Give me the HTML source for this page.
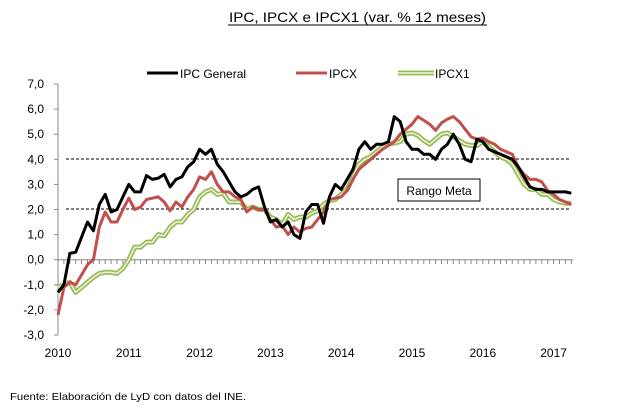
<!DOCTYPE html>
<html><head><meta charset="utf-8"><style>
html,body{margin:0;padding:0;background:#fff;}
svg{display:block;font-family:"Liberation Sans",Calibri,sans-serif;}
</style></head><body>
<svg id="c" width="618" height="416" viewBox="0 0 618 416" xmlns="http://www.w3.org/2000/svg">
<text x="229" y="22" font-size="14" fill="#000" textLength="257" lengthAdjust="spacingAndGlyphs">IPC, IPCX  e IPCX1  (var. % 12 meses)</text>
<line x1="228" y1="25" x2="487" y2="25" stroke="#000" stroke-width="1"/>
<g font-size="12" fill="#000">
<line x1="147" y1="73" x2="178" y2="73" stroke="#000" stroke-width="3"/>
<text x="180" y="78">IPC General</text>
<line x1="296" y1="73" x2="327" y2="73" stroke="#c0504d" stroke-width="3"/>
<text x="329" y="78">IPCX</text>
<line x1="398" y1="73" x2="434" y2="73" stroke="#9bbb59" stroke-width="5"/>
<line x1="398" y1="73" x2="434" y2="73" stroke="#eef3dd" stroke-width="1.5"/>
<text x="435" y="78">IPCX1</text>
</g>
<g id="axes" font-size="12" fill="#000"></g>
<line x1="66" y1="159" x2="570" y2="159" stroke="#000" stroke-dasharray="3,2" stroke-width="1"/>
<line x1="66" y1="209" x2="570" y2="209" stroke="#000" stroke-dasharray="3,2" stroke-width="1"/>
<g id="series"></g>
<rect x="398" y="179" width="82" height="22" fill="#fff" stroke="#000" stroke-width="1"/>
<text x="439" y="195" font-size="12" text-anchor="middle">Rango Meta</text>
<text x="10" y="400" font-size="10.5" textLength="236" lengthAdjust="spacingAndGlyphs">Fuente: Elaboración de LyD con datos del INE.</text>
</svg>
<script>
function X(m){return 58+5.9*m;}
function Y(v){return 259.7-25.1*v;}
var ax=document.getElementById('axes'),h='';
h+='<line x1="58" y1="84" x2="58" y2="335" stroke="#888"/>';
for(var v=-3;v<=7;v++){var y=Y(v);h+='<line x1="54" y1="'+y+'" x2="58" y2="'+y+'" stroke="#888"/>';
h+='<text x="44" y="'+(y+4)+'" text-anchor="end">'+(v.toFixed(1).replace('.',','))+'</text>';}
h+='<line x1="58" y1="259.7" x2="573" y2="259.7" stroke="#888"/>';
for(var m=0;m<=87;m++){var x=X(m);h+='<line x1="'+x+'" y1="259.7" x2="'+x+'" y2="264" stroke="#888"/>';}
for(var yr=0;yr<=7;yr++){h+='<text x="'+X(yr*12)+'" y="357" text-anchor="middle">'+(2010+yr)+'</text>';}
ax.innerHTML=h;
var ipc=[-1.3,-1.0,0.25,0.3,0.9,1.5,1.15,2.2,2.6,1.9,2.0,2.5,3.0,2.7,2.7,3.35,3.2,3.25,3.4,2.9,3.2,3.3,3.7,3.9,4.4,4.2,4.4,3.8,3.5,3.1,2.7,2.5,2.6,2.8,2.9,2.1,1.5,1.6,1.3,1.5,1.0,0.85,1.9,2.2,2.2,1.45,2.5,3.0,2.8,3.2,3.6,4.4,4.7,4.4,4.6,4.6,4.7,5.7,5.5,4.7,4.4,4.4,4.2,4.2,4.0,4.4,4.6,5.0,4.6,4.0,3.9,4.8,4.7,4.4,4.3,4.2,4.1,4.0,3.7,3.3,2.9,2.8,2.8,2.7,2.7,2.7,2.7,2.65];
var ipcx=[-2.2,-1.1,-0.9,-1.0,-0.6,-0.2,0.0,1.3,1.9,1.5,1.5,2.0,2.45,2.0,2.1,2.4,2.45,2.5,2.3,1.95,2.3,2.1,2.5,2.8,3.3,3.2,3.5,3.0,2.7,2.7,2.5,2.4,1.9,2.1,2.0,2.0,1.6,1.3,1.35,1.0,1.3,1.1,1.25,1.3,1.6,1.9,2.4,2.45,2.5,2.75,3.2,3.6,3.8,4.0,4.2,4.4,4.55,4.7,5.0,5.2,5.4,5.7,5.55,5.4,5.15,5.45,5.6,5.7,5.5,5.2,4.9,4.8,4.85,4.7,4.6,4.4,4.3,4.2,3.7,3.4,3.2,3.2,3.1,2.75,2.6,2.4,2.3,2.2];
var g1=[-1.1,-1.0,-0.9,-1.3,-1.1,-0.9,-0.7,-0.55,-0.5,-0.5,-0.55,-0.35,0.0,0.5,0.5,0.7,0.7,1.0,0.95,1.3,1.5,1.5,1.8,2.0,2.5,2.7,2.8,2.6,2.65,2.3,2.3,2.3,2.0,2.1,2.0,2.0,1.7,1.6,1.4,1.8,1.6,1.7,1.7,1.85,1.95,2.2,2.35,2.4,2.6,2.8,3.3,3.8,4.0,4.1,4.3,4.5,4.6,4.65,4.7,5.0,5.05,4.95,4.75,4.6,4.8,5.0,5.05,4.9,4.75,4.6,4.55,4.55,4.7,4.5,4.3,4.1,4.0,3.8,3.4,3.0,2.8,2.8,2.6,2.6,2.4,2.3,2.25,2.25];
function pts(a){return a.map(function(v,i){return X(i).toFixed(1)+','+Y(v).toFixed(1);}).join(' ');}
var s='';
s+='<polyline points="'+pts(g1)+'" fill="none" stroke="#9bbb59" stroke-width="5" stroke-linejoin="round"/>';
s+='<polyline points="'+pts(g1)+'" fill="none" stroke="#eef3dd" stroke-width="1.5" stroke-linejoin="round"/>';
s+='<polyline points="'+pts(ipcx)+'" fill="none" stroke="#c0504d" stroke-width="3" stroke-linejoin="round"/>';
s+='<polyline points="'+pts(ipc)+'" fill="none" stroke="#000" stroke-width="3" stroke-linejoin="round"/>';
document.getElementById('series').innerHTML=s;
</script>
</body></html>
